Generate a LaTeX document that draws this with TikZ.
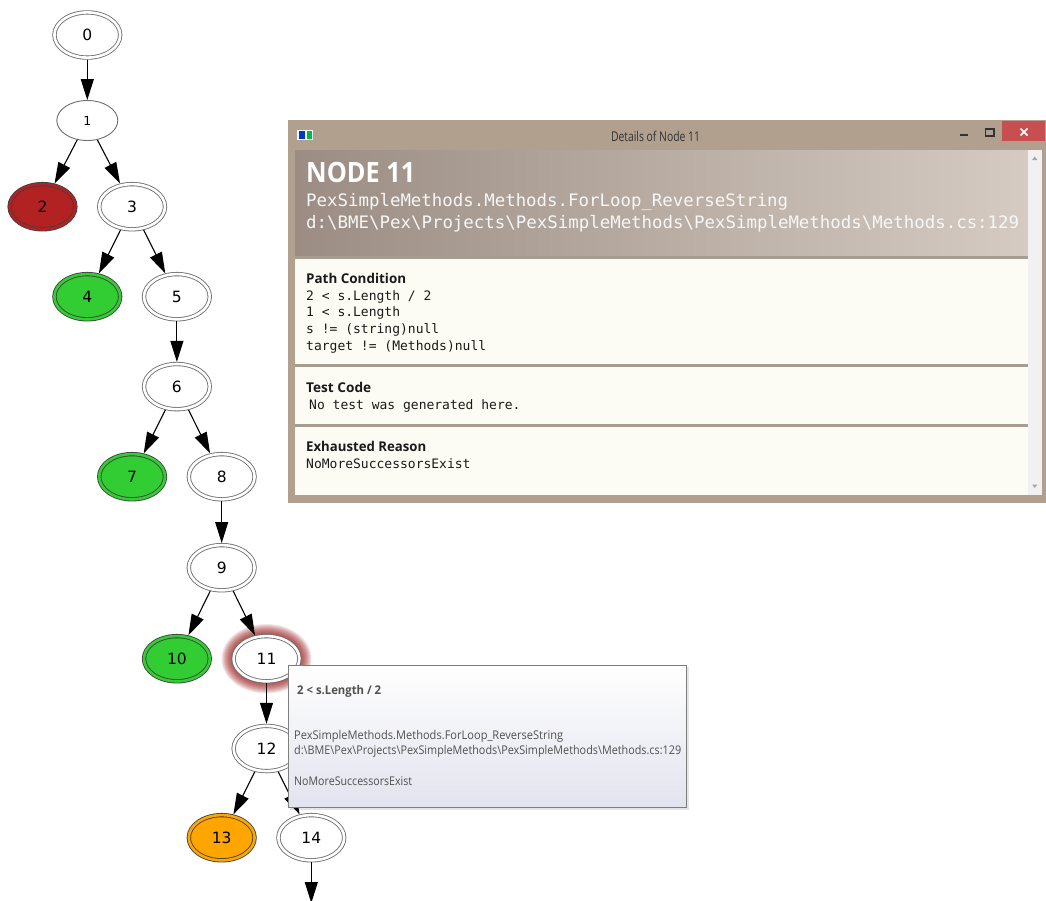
\documentclass[tikz,border=0pt]{standalone}
\usepackage{fontspec}
\usepackage{graphicx}
\usetikzlibrary{shapes.geometric,arrows.meta}
\newfontfamily\gvfont{DejaVu Sans}
\newfontfamily\uifont{Open Sans}
\newfontfamily\codefont{DejaVu Sans Mono}
% set a line at its natural height, stretched or squeezed to a given width
\newcommand{\fitw}[2]{\resizebox{#1}{\height}{#2}}
\newcommand{\bs}{\textbackslash}

\definecolor{gvline}{HTML}{6E6E6E}
\definecolor{gvred}{HTML}{B22222}
\definecolor{gvgreen}{HTML}{32CD32}
\definecolor{gvorange}{HTML}{FFA500}
\definecolor{glowred}{HTML}{9A1818}
\definecolor{winframe}{HTML}{B2A08F}
\definecolor{hdrleft}{HTML}{9B8D84}
\definecolor{hdrright}{HTML}{D5CBC2}
\definecolor{panel}{HTML}{FDFCF4}
\definecolor{sepline}{HTML}{A59C92}
\definecolor{closered}{HTML}{C84F4F}
\definecolor{titletext}{HTML}{333333}
\definecolor{bodytext}{HTML}{1A1A1A}
\definecolor{tiptext}{HTML}{505050}
\definecolor{tipborder}{HTML}{7E7E7E}
\definecolor{tipbottom}{HTML}{E2E3EE}
\definecolor{scrollbg}{HTML}{F1F1F1}
\definecolor{scrollarrow}{HTML}{A8A8A8}

\begin{document}
\begin{tikzpicture}[x=1pt,y=-1pt,
  dbl/.style={ellipse, draw=gvline, line width=0.85pt, double=white,
    double distance=2.6pt, fill=white, minimum width=65.8pt,
    minimum height=45.2pt, inner sep=0pt, outer sep=2.1pt,
    font=\gvfont\fontsize{15.5}{17}\selectfont},
  single/.style={ellipse, draw=gvline, line width=0.9pt, fill=white,
    minimum width=61pt, minimum height=40pt, inner sep=0pt, outer sep=0.45pt,
    font=\gvfont\fontsize{12.5}{14}\selectfont},
  fail/.style={dbl, draw=black!75, fill=gvred, double=gvred},
  ok/.style={dbl, draw=black!75, fill=gvgreen, double=gvgreen},
  warn/.style={dbl, draw=black!75, fill=gvorange, double=gvorange},
  gvedge/.style={draw=black, line width=1.1pt, -{Triangle[length=21pt,width=13pt]}},
  wintitle/.style={anchor=center, text=titletext, inner sep=0pt,
    font=\uifont\fontsize{13.5}{15}\selectfont},
  hdrbig/.style={anchor=base west, text=white, inner sep=0pt,
    font=\uifont\bfseries\fontsize{28}{30}\selectfont},
  hdrcode/.style={anchor=base west, text=white!97!black, inner sep=0pt,
    font=\codefont\fontsize{17.2}{20}\selectfont},
  sectitle/.style={anchor=base west, text=bodytext, inner sep=0pt,
    font=\uifont\bfseries\fontsize{13.5}{15}\selectfont},
  seccode/.style={anchor=base west, text=bodytext, inner sep=0pt,
    font=\codefont\fontsize{13}{15}\selectfont},
  tipbold/.style={anchor=base west, text=tiptext, inner sep=0pt,
    font=\uifont\bfseries\fontsize{12}{13}\selectfont},
  tipline/.style={anchor=base west, text=tiptext, inner sep=0pt,
    font=\uifont\fontsize{12}{13}\selectfont},
]
\useasboundingbox (0,0) rectangle (1046,900);
\fill[white] (0,0) rectangle (1046,900);

% ---------- exploration tree ----------
\node[dbl]    (n0)  at (87.3,35)    {0};
\node[single] (n1)  at (87.3,120.5) {1};
\node[fail]   (n2)  at (42.5,206.7) {2};
\node[dbl]    (n3)  at (132.1,206.7) {3};
\node[ok]     (n4)  at (87.3,296.7) {4};
\node[dbl]    (n5)  at (176.9,296.7) {5};
\node[dbl]    (n6)  at (176.9,386.6) {6};
\node[ok]     (n7)  at (132.1,476.7) {7};
\node[dbl]    (n8)  at (221.7,476.7) {8};
\node[dbl]    (n9)  at (221.7,567.7) {9};
\node[ok]     (n10) at (176.9,658.7) {10};
% halo of the selected node
\foreach \r in {1,...,10}
  \fill[glowred, opacity=0.11] (266.5,658.7) ellipse [x radius={35pt+\r pt}, y radius={24.7pt+\r pt}];
\node[dbl]    (n11) at (266.5,658.7) {11};
\node[dbl]    (n12) at (266.5,748.5) {12};
\node[warn]   (n13) at (221.7,837.7) {13};
\node[dbl]    (n14) at (311.3,837.7) {14};
\coordinate (n14out) at (311.3,903);

\draw[gvedge] (n0) -- (n1);
\draw[gvedge] (n1) -- (n2);
\draw[gvedge] (n1) -- (n3);
\draw[gvedge] (n3) -- (n4);
\draw[gvedge] (n3) -- (n5);
\draw[gvedge] (n5) -- (n6);
\draw[gvedge] (n6) -- (n7);
\draw[gvedge] (n6) -- (n8);
\draw[gvedge] (n8) -- (n9);
\draw[gvedge] (n9) -- (n10);
\draw[gvedge] (n9) -- (n11);
\draw[gvedge] (n11) -- (n12);
\draw[gvedge] (n12) -- (n13);
\draw[gvedge] (n12) -- (n14);
\draw[gvedge] (n14) -- (n14out);

% ---------- details window ----------
\fill[winframe] (288,120) rectangle (1046,503);
% title bar
\fill[white!92!gray] (297,129.5) rectangle (313,140);
\fill[blue!55!teal] (298.5,131) rectangle (304.5,138.5);
\fill[green!45!teal] (307,131) rectangle (311.5,138.5);
\node[wintitle] (wtitle) at (655.5,136) {\fitw{89pt}{Details of Node 11}};
\draw[black!80, line width=1.8pt] (960,135) -- (967.5,135);
\draw[black!80, line width=1.1pt] (985.5,129) rectangle (994,136);
\draw[black!80, line width=1.1pt] (985.5,129.8) -- (994,129.8);
\fill[closered] (1002,121) rectangle (1045,141);
\draw[white, line width=1.6pt] (1020.5,128.5) -- (1027.5,135.5) (1020.5,135.5) -- (1027.5,128.5);

% client area
\fill[panel] (295,150) rectangle (1042,495);
\shade[left color=hdrleft, right color=hdrright] (295,150) rectangle (1028,255.5);
\fill[sepline] (295,255.5) rectangle (1028,258.5);
\fill[sepline] (295,364) rectangle (1028,367);
\fill[sepline] (295,424) rectangle (1028,427);
% scrollbar
\fill[scrollbg] (1028,150) rectangle (1042,495);
\fill[scrollarrow] (1032,160) -- (1037.5,160) -- (1034.75,156.5) -- cycle;
\fill[scrollarrow] (1032,484.5) -- (1037.5,484.5) -- (1034.75,488) -- cycle;

% header
\node[hdrbig]  (hnode) at (306,182) {\fitw{109pt}{NODE 11}};
\node[hdrcode] (hmeth) at (306,206) {\fitw{482pt}{PexSimpleMethods.Methods.ForLoop\_ReverseString}};
\node[hdrcode] (hfile) at (306,228) {\fitw{713pt}{d:\bs BME\bs Pex\bs Projects\bs PexSimpleMethods\bs PexSimpleMethods\bs Methods.cs:129}};

% sections
\node[sectitle] (pct) at (306,283) {\fitw{100pt}{Path Condition}};
\node[seccode] (pc1) at (306,300.5) {2 < s.Length / 2};
\node[seccode] (pc2) at (306,316.8) {1 < s.Length};
\node[seccode] (pc3) at (306,333.6) {s != (string)null};
\node[seccode] (pc4) at (306,350.4) {target != (Methods)null};
\node[sectitle] (tct) at (306,392) {\fitw{65pt}{Test Code}};
\node[seccode] (tc1) at (309,409.5) {No test was generated here.};
\node[sectitle] (ert) at (306,451) {\fitw{120pt}{Exhausted Reason}};
\node[seccode] (er1) at (306,468.5) {NoMoreSuccessorsExist};

% ---------- hover tooltip ----------
\fill[black, opacity=0.10] (290,667) rectangle (689,810);
\shadedraw[top color=white, bottom color=tipbottom, draw=tipborder, line width=0.8pt]
  (288,665) rectangle (686,807);
\node[tipbold] (tp1) at (297,694) {\fitw{84pt}{2 < s.Length / 2}};
\node[tipline] (tp2) at (294,739) {\fitw{269pt}{PexSimpleMethods.Methods.ForLoop\_ReverseString}};
\node[tipline] (tp3) at (294,754) {\fitw{387pt}{d:\bs BME\bs Pex\bs Projects\bs PexSimpleMethods\bs PexSimpleMethods\bs Methods.cs:129}};
\node[tipline] (tp4) at (294,785) {\fitw{118pt}{NoMoreSuccessorsExist}};
\end{tikzpicture}
\end{document}
